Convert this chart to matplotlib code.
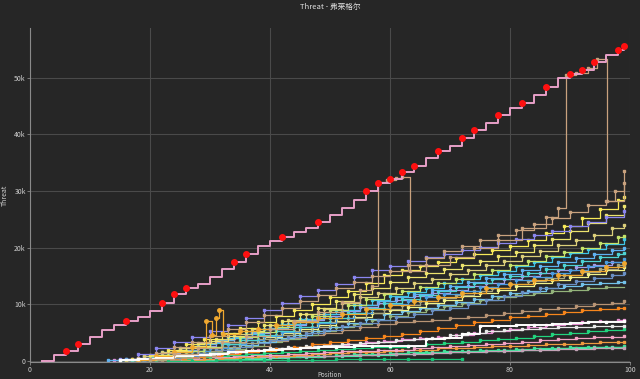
import numpy as np
import matplotlib
matplotlib.use("Agg")
import matplotlib.pyplot as plt
from matplotlib.ticker import FuncFormatter

plt.rcParams['font.family'] = ['Noto Sans CJK SC', 'DejaVu Sans']

N = None

# shared step positions (x), values in thousands
XA = [9, 12, 15, 18, 21, 24, 27, 30, 33, 36, 39, 42, 45, 48, 51, 54, 57, 60, 63, 66, 69, 72, 75, 78, 81, 84, 87, 90, 93, 96, 99]
XB = [10, 13, 16, 19, 22, 25, 28, 31, 34, 37, 40, 43, 46, 49, 52, 55, 58, 61, 64, 67, 70, 73, 76, 79, 82, 85, 88, 91, 94, 97, 99]
XC = [11, 14, 17, 20, 23, 26, 29, 32, 35, 38, 41, 44, 47, 50, 53, 56, 59, 62, 65, 68, 71, 74, 77, 80, 83, 86, 89, 92, 95, 98, 99]

# the leading player
main_x = [2, 4, 6, 8, 10, 12, 14, 16, 18, 20, 22, 24, 26, 28, 30, 32, 34, 36, 38, 40, 42, 44, 46, 48, 50,
          52, 54, 56, 58, 60, 62, 64, 66, 68, 70, 72, 74, 76, 78, 80, 82, 84, 86, 88, 90, 92, 94, 96, 98, 99]
main_y = [0.0, 1.0, 1.8, 3.0, 4.3, 5.5, 6.3, 7.0, 7.8, 8.8, 10.3, 11.8, 12.8, 13.5, 14.8, 16.3, 17.4, 18.8, 20.3, 21.2,
          21.8, 22.8, 23.5, 24.6, 25.8, 27.0, 28.5, 30.0, 31.4, 32.2, 33.4, 34.5, 35.9, 37.0, 38.0, 39.4, 40.8, 42.0, 43.4, 44.6,
          45.6, 47.0, 48.4, 49.9, 50.7, 51.4, 52.8, 54.0, 55.0, 55.6]
main_red = [2, 3, 7, 10, 11, 12, 16, 17, 20, 23, 27, 28, 29, 30, 31, 33, 35, 36, 38, 40, 42, 44, 45, 46, 48, 49]

# tan line that jumps up to the leader twice
jump_x = [20, 24, 28, 32, 36, 40, 44, 48, 52, 55, 57, 58, 59.5, 61, 62, 63.3, 66, 70, 74, 78, 82, 86, 88,
          89.3, 91, 93, 94.5, 96.2, 97.5, 99]
jump_y = [0.3, 1.2, 2.2, 3.3, 4.4, 5.6, 7.0, 8.6, 10.4, 12.6, 13.3, 31.6, 32.0, 32.3, 32.5, 15.8, 16.9, 18.4,
          19.9, 21.4, 23.5, 25.5, 27.0, 50.5, 50.9, 51.8, 53.4, 28.3, 30.0, 31.4]

tan_top = [N, N, N, 0.5, 1.4, 2.4, 3.4, 4.4, 5.6, 6.8, 8.1, 9.3, 10.5, 11.7, 12.9, 14.0, 15.0, 15.8,
           17.0, 18.2, 19.4, 20.3, 21.3, 22.2, 23.2, 24.2, 25.2, 26.3, 27.5, 28.3, 33.5]
lav = [N, N, 0.3, 1.2, 2.3, 3.4, 4.3, 5.2, 6.4, 7.6, 9.0, 10.2, 11.4, 12.5, 13.6, 14.8, 16.0, 16.8, 17.6, 18.3,
       18.9, 19.6, 20.2, 20.9, 21.5, 22.3, 23.0, 23.8, 24.6, 25.5, 26.5]
yel1 = [N, N, 0.4, 1.1, 2.0, 3.0, 3.9, 4.9, 5.8, 6.9, 7.9, 9.0, 10.1, 11.2, 12.4, 13.8, 15.2, 16.1, 16.8, 17.5,
        18.2, 18.9, 19.6, 20.3, 21.4, 22.6, 23.9, 25.3, 26.8, 28.4, 29.0]
yel2 = [N, N, N, 0.3, 1.0, 1.8, 2.7, 3.5, 4.4, 5.3, 6.3, 7.1, 8.2, 9.4, 10.6, 11.9, 12.9, 14.0, 14.8, 15.6,
        16.3, 17.0, 17.7, 18.5, 19.3, 20.4, 21.6, 22.9, 24.3, 25.8, 27.3]
khaki = [N, N, 0.2, 0.8, 1.5, 2.3, 3.1, 3.9, 4.8, 5.6, 6.4, 7.3, 8.2, 9.1, 10.2, 11.2, 12.0, 12.8, 13.7, 14.5,
         15.3, 16.1, 16.9, 17.7, 18.5, 19.4, 20.4, 21.3, 22.3, 23.4, 24.0]
ygreen = [N, N, N, 0.3, 0.9, 1.7, 2.5, 3.4, 4.3, 5.1, 6.0, 6.9, 7.9, 8.9, 9.8, 10.9, 11.8, 12.4, 13.1, 13.8,
          14.5, 15.3, 16.1, 17.0, 17.7, 18.5, 19.2, 20.0, 20.9, 21.8, 22.0]
cyan1 = [N, N, 0.1, 0.5, 1.1, 1.8, 2.5, 3.2, 4.0, 4.8, 5.7, 6.5, 7.4, 8.2, 9.0, 9.9, 10.7, 11.5, 12.2, 12.9,
         13.7, 14.4, 15.1, 15.9, 16.7, 17.5, 18.3, 19.0, 19.8, 20.7, 21.6]
lblue = [N, 0.1, 0.4, 0.9, 1.5, 2.2, 2.9, 3.6, 4.3, 5.1, 5.8, 6.6, 7.4, 8.2, 9.0, 9.8, 10.5, 11.2, 11.9, 12.6,
         13.2, 13.9, 14.6, 15.3, 16.0, 16.7, 17.4, 18.1, 18.8, 19.5, 20.0]
cyan2 = [N, N, 0.2, 0.6, 1.1, 1.7, 2.3, 3.0, 3.7, 4.5, 5.2, 6.0, 6.8, 7.6, 8.5, 9.4, 10.2, 10.9, 11.6, 12.3,
         13.0, 13.7, 14.4, 15.0, 15.6, 16.2, 16.9, 17.6, 18.3, 18.9, 19.0]
blue = [N, N, N, 0.2, 0.6, 1.1, 1.7, 2.3, 3.0, 3.7, 4.4, 5.1, 5.9, 6.7, 7.6, 8.4, 9.2, 10.0, 10.6, 11.2,
        11.8, 12.4, 13.0, 13.6, 14.2, 14.9, 15.5, 16.1, 16.8, 17.4, 18.0]
lav2 = [N, N, 0.3, 0.8, 1.4, 2.0, 2.7, 3.4, 4.1, 4.9, 5.6, 6.4, 7.2, 8.0, 8.8, 9.6, 10.2, 10.8, 11.4, 12.0,
        12.6, 13.2, 13.8, 14.4, 15.0, 15.5, 16.0, 16.5, 17.0, 17.5, N]
olgray = [N, N, N, 0.2, 0.7, 1.2, 1.8, 2.5, 3.1, 3.8, 4.5, 5.3, 6.0, 6.8, 7.6, 8.4, 9.2, 9.8, 10.5, 11.1,
          11.7, 12.3, 12.9, 13.5, 14.1, 14.6, 15.1, 15.7, 16.3, 16.9, 17.0]
yel3 = [N, N, 0.1, 0.4, 0.8, 1.3, 1.8, 2.4, 3.0, 3.6, 4.3, 5.0, 5.7, 6.4, 7.1, 7.8, 8.4, 9.0, 9.6, 10.2,
        10.8, 11.4, 12.0, 12.6, 13.2, 13.8, 14.3, 14.9, 15.4, 16.0, 16.5]
steel = [N, N, N, 0.2, 0.5, 0.9, 1.4, 1.9, 2.5, 3.1, 3.7, 4.3, 4.9, 5.5, 6.1, 6.7, 7.2, 7.7, 8.3, 8.9,
         9.4, 10.0, 10.7, 11.4, 12.1, 12.8, 13.5, 14.1, 14.7, 15.2, 15.5]
sky = [N, N, 0.1, 0.4, 0.8, 1.2, 1.7, 2.2, 2.8, 3.4, 4.0, 4.6, 5.3, 6.0, 6.7, 7.4, 8.2, 8.8, 9.4, 9.9,
       10.4, 10.9, 11.5, 12.0, 12.4, 12.8, 13.2, 13.5, 13.8, 14.0, 14.0]
olgreen = [N, N, N, N, 0.3, 0.7, 1.1, 1.6, 2.1, 2.7, 3.3, 3.9, 4.5, 5.2, 5.9, 6.6, 7.3, 8.0, 8.6, 9.2,
           9.7, 10.2, 10.7, 11.2, 11.6, 12.0, 12.3, 12.6, 12.8, 13.0, N]
tan3 = [N, N, N, N, 0.2, 0.5, 0.9, 1.4, 2.0, 2.7, 3.5, 4.0, 4.5, 5.0, 5.5, 6.0, 6.5, 6.9, 7.1, 7.3,
        7.6, 7.8, 8.1, 8.4, 8.8, 9.1, 9.4, 9.7, 10.0, 10.3, 10.5]
orange = [N, N, N, 0.1, 0.3, 0.6, 0.9, 1.2, 1.5, 1.8, 2.1, 2.5, 2.9, 3.3, 3.7, 4.1, 4.4, 4.8, 5.3, 5.8,
          6.3, 6.8, 7.3, 7.7, 8.0, 8.3, 8.6, 8.9, 9.1, 9.3, 9.3]
whiteA = [N, N, 0.1, 0.3, 0.5, 0.8, 1.0, 1.3, 1.5, 1.7, 1.9, 2.1, 2.3, 2.4, 2.5, 2.6, 2.6, 2.6, 2.7, 3.9,
          4.1, 4.8, 6.1, 6.2, 6.3, 6.4, 6.6, 6.7, 6.8, 6.9, 7.0]
whiteB = [N, N, 0.1, 0.3, 0.5, 0.7, 1.0, 1.3, 1.6, 1.9, 2.2, 2.4, 2.6, 2.8, 3.0, 3.2, 3.4, 3.6, 3.8, 4.0,
          4.5, 4.9, 5.2, 5.5, 5.7, 5.8, 5.9, 6.0, 6.1, 6.2, 6.2]
pink = [N, 0.1, 0.3, 0.5, 0.7, 0.9, 1.1, 1.4, 1.6, 1.9, 2.1, 2.3, 2.6, 2.8, 3.0, 3.3, 3.5, 3.8, 4.0, 4.3,
        4.6, 4.9, 5.3, 5.6, 5.9, 6.3, 6.6, 6.9, 7.1, 7.3, 7.3]
green1 = [N, N, N, N, 0.2, 0.4, 0.6, 0.8, 1.0, 1.2, 1.4, 1.6, 1.8, 1.9, 2.1, 2.2, 2.4, 2.5, 2.7, 2.9,
          3.1, 3.4, 3.6, 3.9, 4.1, 4.4, 4.7, 4.9, 5.2, 5.4, 5.6]
pink2 = [N, N, N, 0.1, 0.3, 0.4, 0.6, 0.7, 0.9, 1.0, 1.1, 1.3, 1.4, 1.5, 1.7, 1.8, 1.9, 2.0, 2.2, 2.4,
         2.6, 2.8, 3.0, 3.2, 3.4, 3.6, 3.8, 4.0, 4.2, 4.3, 4.4]
orange2 = [N, N, N, N, 0.1, 0.2, 0.4, 0.5, 0.7, 0.8, 0.9, 1.1, 1.2, 1.4, 1.5, 1.6, 1.8, 1.9, 2.0, 2.2,
           2.3, 2.4, 2.6, 2.7, 2.8, 2.9, 3.0, 3.2, 3.3, 3.4, 3.4]
green2 = [N, N, N, N, N, 0.1, 0.2, 0.3, 0.4, 0.5, 0.6, 0.7, 0.8, 0.9, 1.0, 1.2, 1.3, 1.4, 1.5, 1.6,
          1.7, 1.8, 1.9, 2.0, 2.1, 2.2, 2.3, 2.4, 2.5, 2.5, 2.6]
mauve = [N, N, 0.1, 0.2, 0.3, 0.3, 0.4, 0.5, 0.6, 0.6, 0.7, 0.8, 0.9, 0.9, 1.0, 1.1, 1.2, 1.2, 1.3, 1.4,
         1.5, 1.6, 1.7, 1.8, 1.9, 2.0, 2.1, 2.1, 2.2, 2.3, 2.3]
mint = [N, N, N, N, N, N, 0.1, 0.2, 0.3, 0.4, 0.5, 0.6, 0.7, 0.8, 0.9, 1.0, 1.1, 1.2, 1.4, 1.5,
        1.6, 1.7, 1.8, 1.9, 2.0, 2.1, 2.2, 2.3, 2.4, 2.4, N]
green3_x = [23, 27, 31, 35, 39, 43, 47, 51, 55, 59, 63, 67, 72]
green3_y = [0.0, 0.05, 0.1, 0.12, 0.15, 0.2, 0.22, 0.25, 0.3, 0.32, 0.35, 0.4, 0.4]
gold_x = [18, 21, 24, 27, 29.4, 30.3, 31.0, 31.5, 32.2, 35, 38, 41, 44, 48, 52, 56, 60, 64, 68, 72, 76, 80, 84, 88, 92, 96, 99]
gold_y = [0.2, 0.8, 1.6, 2.5, 7.1, 4.6, 7.5, 9.0, 4.8, 5.2, 5.7, 6.3, 6.9, 7.6, 8.3, 9.1, 9.8, 10.5, 11.3, 12.0,
          12.8, 13.6, 14.3, 15.1, 15.9, 16.6, 17.2]

series = [
    (XB, mint, '#4ff0b0'),
    (XA, green2, '#3ee39a'),
    (XB, mauve, '#c2a2b6'),
    (XC, orange2, '#ee9a3f'),
    (XB, pink2, '#f2a2c4'),
    (XA, green1, '#22d47e'),
    (XC, pink, '#e58fd0'),
    (XB, whiteB, '#e8e8e8'),
    (XC, orange, '#f7861c'),
    (XB, tan3, '#b89474'),
    (XA, olgreen, '#93b37a'),
    (XC, sky, '#73c2ea'),
    (XB, steel, '#6a8fc4'),
    (XA, yel3, '#f2f28a'),
    (XC, olgray, '#a8a57e'),
    (XB, lav2, '#a39ce8'),
    (XA, blue, '#4a9de0'),
    (XC, cyan2, '#4dd3d3'),
    (XB, lblue, '#5fb2f2'),
    (XA, cyan1, '#3fc6e6'),
    (XC, ygreen, '#c5e36a'),
    (XB, khaki, '#dccf7a'),
    (XA, yel2, '#ece36e'),
    (XC, yel1, '#f7ea5a'),
    (XA, lav, '#8b86f0'),
    (XA, tan_top, '#c9a27e'),
]

bg = '#262626'
fig = plt.figure(figsize=(6.4, 3.79), dpi=100, facecolor=bg)
ax = fig.add_axes([30 / 640, 1 - 362 / 379, 600 / 640, 334 / 379], facecolor=bg)

for xs, ys, col in series:
    ax.step(xs, np.array(ys, dtype=float), where='post', color=col, lw=0.9,
            marker='s', ms=1.8, zorder=2)

ax.step(green3_x, green3_y, where='post', color='#19c377', lw=0.9, marker='s', ms=1.8, zorder=2)
ax.step(gold_x, gold_y, where='post', color='#f0a830', lw=0.9, marker='o', ms=2.5, zorder=2)
ax.step(XA, np.array(whiteA, dtype=float), where='post', color='#ffffff', lw=1.4,
        marker='s', ms=2, zorder=3)
ax.step(jump_x, jump_y, where='post', color='#c9a27e', lw=0.9, marker='s', ms=1.8, zorder=3)
ax.step(main_x, main_y, where='post', color='#e8a0c8', lw=1.4, zorder=4)
ax.plot(np.array(main_x)[main_red], np.array(main_y)[main_red], 'o', color='#ff1010', ms=4, zorder=5)

ax.set_xlim(0, 100)
ax.set_ylim(-0.2, 58.8)
ax.set_xticks([0, 20, 40, 60, 80, 100])
ax.set_yticks([0, 10, 20, 30, 40, 50])
ax.yaxis.set_major_formatter(FuncFormatter(lambda v, p: '0' if v == 0 else f'{int(v)}k'))
ax.grid(True, color='#4a4a4a', lw=0.8)
ax.set_axisbelow(True)
for s in ['top', 'right']:
    ax.spines[s].set_visible(False)
for s in ['left', 'bottom']:
    ax.spines[s].set_color('#8a8a8a')
    ax.spines[s].set_linewidth(0.8)
ax.tick_params(colors='#8a8a8a', labelcolor='#cfcfcf', labelsize=5, length=2, width=0.6, pad=1)

ax.set_title('Threat - 弗莱格尔', color='#e0e0e0', fontsize=5.5, pad=14)
ax.set_ylabel('Threat', color='#cfcfcf', fontsize=5)
ax.yaxis.set_label_coords(-0.036, 0.5)
ax.set_xlabel('Position', color='#cfcfcf', fontsize=4.5)
ax.xaxis.set_label_coords(0.5, -0.028)

fig.savefig('out.png', dpi=100, facecolor=bg)
